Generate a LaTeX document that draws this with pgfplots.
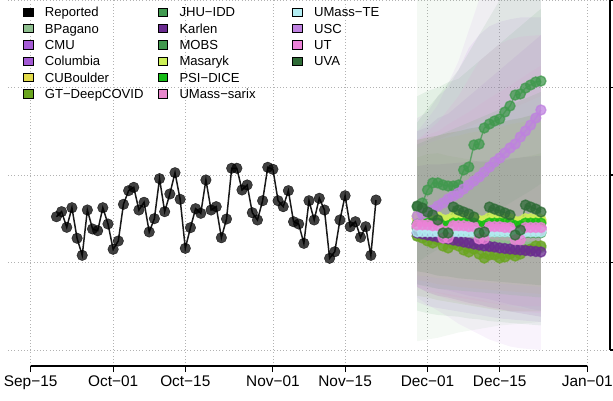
\documentclass[border=0pt]{standalone}
\usepackage{fontspec}
\setmainfont{Liberation Sans}
\usepackage{pgfplots}
\usepackage{pgfplotstable}
\usepgfplotslibrary{fillbetween}
\usetikzlibrary{calc}
\pgfplotsset{compat=1.18}

\definecolor{cbp}{HTML}{8FBF8F}
\definecolor{ccmu}{HTML}{A65CD6}
\definecolor{ccolu}{HTML}{A35AD4}
\definecolor{ccubo}{HTML}{E3DB4B}
\definecolor{cgt}{HTML}{6AA51F}
\definecolor{cjhu}{HTML}{419A50}
\definecolor{ckarl}{HTML}{6A2B90}
\definecolor{cmobs}{HTML}{41994E}
\definecolor{cmasa}{HTML}{CDF057}
\definecolor{cpsi}{HTML}{16BB16}
\definecolor{csarix}{HTML}{E887CC}
\definecolor{cte}{HTML}{B3EEF3}
\definecolor{cusc}{HTML}{BF82E0}
\definecolor{cut}{HTML}{EC82D8}
\definecolor{cuva}{HTML}{2E6B36}

% reported, day 0 = Sep-15
\pgfplotstableread{
d v
5 152.3
6 158.1
7 140.2
8 162.6
9 127.7
10 108.2
11 160.0
12 138.3
13 136.3
14 162.6
15 144.0
16 115.1
17 124.6
18 166.5
19 182.1
20 185.9
21 160.0
22 168.8
23 134.9
24 150.1
25 195.8
26 158.1
27 178.3
28 202.6
29 172.2
30 116.2
31 139.8
32 161.5
33 156.2
34 194.3
35 160.0
36 163.8
37 128.3
38 149.7
39 207.7
40 207.7
41 182.9
42 188.6
43 156.9
44 148.6
45 170.6
46 208.8
47 206.5
48 170.6
49 163.8
50 182.1
51 146.6
52 144.0
53 121.9
54 170.6
55 148.6
56 173.4
57 160.0
58 104.8
59 112.3
60 148.6
61 176.3
62 140.9
63 146.6
64 128.8
65 140.9
66 108.2
67 171.4
}\reported

% forecast medians
\pgfplotstableread{
d bp cmu colu cubo gt jhu karl mobs masa psi sarix te usc ut uva
75 130 141 144 150 130.3 139 133.7 163.4 153 144 141 135 153.1 143 164.6
76 129 141 144 150 128.0 139 132.6 168.0 153 145 141 135 155.4 143 162.3
77 128 141 144 150 124.6 138 131.4 182.9 152 145 140 135 157.7 143 157.7
78 127 140 143 150 122.3 138 130.3 190.9 152 145 140 135 160.0 142 154.3
79 126 140 143 149 125.7 138 129.1 190.9 152 145 140 135 164.6 142 148.6
80 122 136 140 147 118.9 135 128.0 188.6 149 142 136 133 168.0 128 133.7
81 121 136 140 147 116.6 135 126.9 187.4 149 142 136 133 172.6 128 133.7
82 125 140 143 149 121.1 137 125.7 187.4 152 145 140 135 176.0 142 163.4
83 124 140 143 149 118.9 137 124.6 188.6 152 145 139 135 179.4 142 160.0
84 123 140 143 149 114.3 137 123.4 205.7 151 145 139 135 184.0 142 157.7
85 122 140 142 149 112.0 136 122.3 209.1 151 145 139 135 188.6 141 155.4
86 122 139 142 148 115.4 136 121.1 234.3 151 145 139 135 193.1 141 152.0
87 118 135 139 146 109.7 133 120.0 235.4 148 142 135 133 197.7 127 133.7
88 117 135 139 146 105.1 133 118.9 253.7 148 142 135 133 203.4 127 134.9
89 121 139 142 148 108.6 136 118.3 258.3 151 145 139 135 209.1 141 163.4
90 120 139 142 148 108.6 135 117.7 261.7 151 145 138 135 214.9 141 161.1
91 120 139 142 148 105.1 135 116.6 264.0 150 145 138 135 219.4 141 158.9
92 119 139 141 148 106.3 135 116.0 272.0 150 145 138 135 225.1 140 156.6
93 119 138 141 147 109.7 135 115.4 278.9 150 145 138 135 230.9 140 154.3
94 115 134 138 145 107.4 132 114.9 291.4 147 142 134 133 235.4 126 131.4
95 115 134 138 145 109.7 132 114.3 292.6 147 142 134 133 243.4 126 137.1
96 118 138 141 147 114.3 134 113.7 299.4 150 145 137 135 250.3 140 165.7
97 118 138 141 147 115.4 134 113.1 302.9 150 145 137 135 257.1 140 163.4
98 117 138 141 147 118.9 134 112.6 306.3 149 145 137 135 265.1 140 161.1
99 117 138 140 147 118.9 134 112.0 307.4 149 145 137 135 274.3 140 157.7
}\med

% prediction intervals (lower / upper)
\pgfplotstableread{
d bpl bph cmul cmuh colul coluh cubol cuboh gtl gth jhul jhuh karll karlh mobsl mobsh masal masah psil psih sarixl sarixh tel teh uscl usch utl uth uval uvah
75 10 470 55 265 75 250 80 230 62 220 45 290 72 210 100 260 85 240 75 235 72 240 72 230 60 250 72 240 90 240
77 12 470 50 272 73 255 78 236 60 224 42 296 66 212 108 276 84 243 72 240 68 246 68 236 52 264 66 250 88 243
79 14 470 48 290 70 265 75 240 57 225 40 300 62 212 115 290 82 245 70 245 65 250 66 240 45 280 62 260 85 245
81 17 470 46 300 68 270 74 243 55 222 39 306 60 213 120 305 81 248 69 250 62 258 64 245 38 305 58 275 84 248
83 20 470 44 320 65 280 72 245 53 220 38 310 57 214 125 320 80 250 68 255 60 265 62 250 30 330 55 290 82 250
85 22 470 42 345 62 290 71 248 51 218 36 320 54 215 132 340 79 252 67 260 58 272 60 255 24 365 52 310 81 253
87 24 470 40 360 60 300 70 250 49 215 35 330 52 216 140 360 78 255 66 265 56 280 58 260 18 400 50 330 80 255
89 26 470 38 370 58 310 69 252 47 215 33 340 49 217 150 380 77 258 65 270 54 288 55 265 12 430 48 340 79 258
91 28 470 36 375 55 320 68 255 45 215 32 350 47 218 160 400 76 260 64 275 52 295 53 270 8 460 46 350 78 260
93 29 470 35 378 52 330 67 258 44 218 31 360 44 219 168 420 75 262 63 280 51 302 50 275 4 470 45 355 77 263
95 30 470 34 380 50 340 66 260 44 220 30 370 42 220 175 440 74 265 62 285 50 310 48 280 2 480 44 358 76 265
97 31 470 33 380 47 350 65 262 44 222 29 380 40 221 182 455 73 268 61 290 50 318 46 285 1 490 43 359 75 268
99 32 470 32 380 45 360 64 265 44 225 28 390 38 222 190 470 72 270 60 295 50 325 45 290 0 500 42 360 74 270
}\bands

\begin{document}
\begin{tikzpicture}
\begin{axis}[
    scale only axis, width=602pt, height=366pt,
    xmin=-4.4, xmax=112.4, ymin=-18.3, ymax=400,
    axis line style={draw=none},
    xtick={0,16,30,47,61,77,91,108},
    xticklabels={Sep−15,Oct−01,Oct−15,Nov−01,Nov−15,Dec−01,Dec−15,Jan−01},
    ytick={0,100,200,300,400}, yticklabels={},
    xtick pos=bottom, ytick pos=right,
    tick align=outside, major tick length=6pt,
    tick style={black, line width=1.1pt},
    grid=major,
    grid style={black!30, line width=0.8pt, dash pattern=on 0.8pt off 2.4pt},
    xticklabel style={font=\fontsize{15.4}{18}\selectfont},
    legend columns=3,
    legend cell align=left,
    legend image code/.code={\fill[#1] (0pt,-4.15pt) rectangle (9.7pt,4.15pt);},
    legend style={draw=none, fill=none, inner sep=0pt,
        at={(axis description cs:0,1)}, anchor=north west, xshift=14.7pt, yshift=-3.85pt,
        font=\fontsize{13.1}{16}\selectfont,
        nodes={inner sep=0pt, text height=12.85pt, text depth=3.45pt},
        row sep=0pt,
        /tikz/every odd column/.append style={column sep=11.9pt},
        /tikz/every even column/.append style={column sep=12.6pt}},
]
% intervals
\pgfplotsinvokeforeach{bp,cmu,colu,cubo,gt,jhu,karl,mobs,masa,psi,sarix,te,usc,ut,uva}{
    \addplot[draw=none, name path=#1l, forget plot] table[x=d, y=#1l] {\bands};
    \addplot[draw=none, name path=#1h, forget plot] table[x=d, y=#1h] {\bands};
    \addplot[c#1, fill opacity=0.095, forget plot] fill between[of=#1l and #1h];
}
% medians
\pgfplotsinvokeforeach{bp,cmu,colu,cubo,gt,jhu,karl,mobs,masa,psi,sarix,te,usc,ut,uva}{
    \addplot[c#1, line width=1.4pt, mark=*, mark size=5pt, opacity=0.75, forget plot] table[x=d, y=#1] {\med};
}
% reported
\addplot[only marks, mark=*, mark size=5.3pt, black, opacity=0.75, forget plot] table[x=d, y=v] {\reported};
\addplot[no marks, black!90, line width=1.5pt, forget plot] table[x=d, y=v] {\reported};

\addlegendimage{fill=black}\addlegendentry{\makebox[100pt][l]{Reported}}
\addlegendimage{fill=cjhu}\addlegendentry{\makebox[100pt][l]{JHU−IDD}}
\addlegendimage{fill=cte}\addlegendentry{\makebox[100pt][l]{UMass−TE}}
\addlegendimage{fill=cbp}\addlegendentry{\makebox[100pt][l]{BPagano}}
\addlegendimage{fill=ckarl}\addlegendentry{\makebox[100pt][l]{Karlen}}
\addlegendimage{fill=cusc}\addlegendentry{\makebox[100pt][l]{USC}}
\addlegendimage{fill=ccmu}\addlegendentry{\makebox[100pt][l]{CMU}}
\addlegendimage{fill=cmobs}\addlegendentry{\makebox[100pt][l]{MOBS}}
\addlegendimage{fill=cut}\addlegendentry{\makebox[100pt][l]{UT}}
\addlegendimage{fill=ccolu}\addlegendentry{\makebox[100pt][l]{Columbia}}
\addlegendimage{fill=cmasa}\addlegendentry{\makebox[100pt][l]{Masaryk}}
\addlegendimage{fill=cuva}\addlegendentry{\makebox[100pt][l]{UVA}}
\addlegendimage{fill=ccubo}\addlegendentry{\makebox[100pt][l]{CUBoulder}}
\addlegendimage{fill=cpsi}\addlegendentry{\makebox[100pt][l]{PSI−DICE}}
\addlegendimage{empty legend}\addlegendentry{}
\addlegendimage{fill=cgt}\addlegendentry{\makebox[100pt][l]{GT−DeepCOVID}}
\addlegendimage{fill=csarix}\addlegendentry{\makebox[100pt][l]{UMass−sarix}}
\addlegendimage{empty legend}\addlegendentry{}

\coordinate (SW) at (rel axis cs:0,0);
\coordinate (NE) at (rel axis cs:1,1);
\coordinate (xa) at (axis cs:0,-18.3);
\coordinate (xb) at (axis cs:108,-18.3);
\coordinate (ya) at (axis cs:112.4,0);
\coordinate (yb) at (axis cs:112.4,400);
\end{axis}
\draw[line width=1.1pt] (xa) -- (xb);
\draw[line width=1.1pt] (ya) -- (yb);
\pgfresetboundingbox
\path[use as bounding box] ($(SW)+(-8pt,-34pt)$) rectangle ($(NE)+(3pt,0pt)$);
\end{tikzpicture}
\end{document}
